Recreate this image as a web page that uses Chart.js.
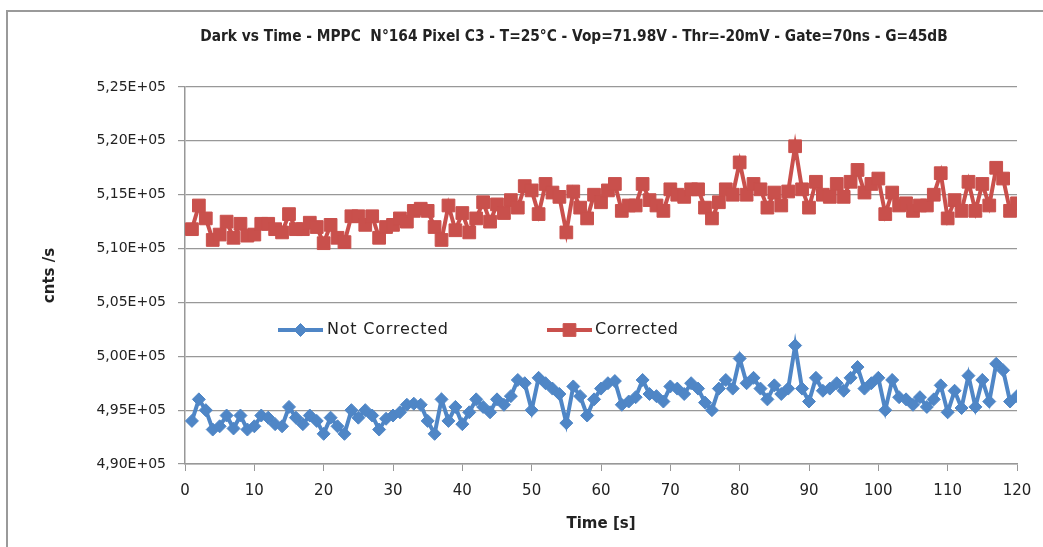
<!DOCTYPE html>
<html><head><meta charset="utf-8">
<script src="https://cdn.jsdelivr.net/npm/chart.js@4.4.1/dist/chart.umd.min.js"></script>
<style>
html,body{margin:0;padding:0;background:#fff;}
#wrap{position:relative;width:1043px;height:547px;overflow:hidden;background:#fff;}
#frame{position:absolute;left:6px;top:10px;width:1100px;height:600px;border-left:2px solid #9a9a9a;border-top:2px solid #9a9a9a;}
canvas{position:absolute;left:0;top:0;}
</style></head><body>
<div id="wrap"><div id="frame"></div><canvas id="c" width="1043" height="547"></canvas></div>
<script>
const titleText = 'Dark vs Time - MPPC  N°164 Pixel C3 - T=25°C - Vop=71.98V - Thr=-20mV - Gate=70ns - G=45dB';
const xTitle = 'Time [s]';
const yTitle = 'cnts /s';
const seriesNames = ['Not Corrected', 'Corrected'];

const timeS = [1,2,3,4,5,6,7,8,9,10,11,12,13,14,15,16,17,18,19,20,
21,22,23,24,25,26,27,28,29,30,31,32,33,34,35,36,37,38,39,40,
41,42,43,44,45,46,47,48,49,50,51,52,53,54,55,56,57,58,59,60,
61,62,63,64,65,66,67,68,69,70,71,72,73,74,75,76,77,78,79,80,
81,82,83,84,85,86,87,88,89,90,91,92,93,94,95,96,97,98,99,100,
101,102,103,104,105,106,107,108,109,110,111,112,113,114,115,116,117,118,119,120];

const notCorrected = [
4.940e5,4.960e5,4.950e5,4.932e5,4.935e5,4.945e5,4.933e5,4.945e5,4.932e5,4.935e5,
4.945e5,4.943e5,4.937e5,4.935e5,4.953e5,4.943e5,4.937e5,4.945e5,4.940e5,4.928e5,
4.943e5,4.935e5,4.928e5,4.950e5,4.943e5,4.950e5,4.945e5,4.932e5,4.942e5,4.945e5,
4.948e5,4.955e5,4.956e5,4.955e5,4.940e5,4.928e5,4.960e5,4.940e5,4.953e5,4.937e5,
4.948e5,4.960e5,4.953e5,4.948e5,4.960e5,4.955e5,4.963e5,4.978e5,4.975e5,4.950e5,
4.980e5,4.975e5,4.970e5,4.965e5,4.938e5,4.972e5,4.963e5,4.945e5,4.960e5,4.970e5,
4.975e5,4.977e5,4.955e5,4.958e5,4.962e5,4.978e5,4.965e5,4.963e5,4.958e5,4.972e5,
4.970e5,4.965e5,4.975e5,4.970e5,4.957e5,4.950e5,4.970e5,4.978e5,4.970e5,4.998e5,
4.975e5,4.980e5,4.970e5,4.960e5,4.973e5,4.965e5,4.970e5,5.010e5,4.970e5,4.958e5,
4.980e5,4.968e5,4.970e5,4.975e5,4.968e5,4.980e5,4.990e5,4.970e5,4.975e5,4.980e5,
4.950e5,4.978e5,4.962e5,4.960e5,4.955e5,4.962e5,4.953e5,4.960e5,4.973e5,4.948e5,
4.968e5,4.952e5,4.982e5,4.953e5,4.978e5,4.958e5,4.993e5,4.987e5,4.958e5,4.963e5];

const corrected = [
5.118e5,5.140e5,5.128e5,5.108e5,5.113e5,5.125e5,5.110e5,5.123e5,5.112e5,5.113e5,
5.123e5,5.123e5,5.118e5,5.115e5,5.132e5,5.118e5,5.118e5,5.124e5,5.120e5,5.105e5,
5.122e5,5.110e5,5.106e5,5.130e5,5.130e5,5.122e5,5.130e5,5.110e5,5.120e5,5.122e5,
5.128e5,5.125e5,5.135e5,5.137e5,5.135e5,5.120e5,5.108e5,5.140e5,5.117e5,5.133e5,
5.115e5,5.128e5,5.143e5,5.125e5,5.141e5,5.133e5,5.145e5,5.138e5,5.158e5,5.154e5,
5.132e5,5.160e5,5.152e5,5.148e5,5.115e5,5.153e5,5.138e5,5.128e5,5.150e5,5.143e5,
5.154e5,5.160e5,5.135e5,5.140e5,5.140e5,5.160e5,5.145e5,5.140e5,5.135e5,5.155e5,
5.150e5,5.148e5,5.155e5,5.155e5,5.138e5,5.128e5,5.143e5,5.155e5,5.150e5,5.180e5,
5.150e5,5.160e5,5.155e5,5.138e5,5.152e5,5.140e5,5.153e5,5.195e5,5.155e5,5.138e5,
5.162e5,5.150e5,5.148e5,5.160e5,5.148e5,5.162e5,5.173e5,5.152e5,5.160e5,5.165e5,
5.132e5,5.152e5,5.140e5,5.142e5,5.135e5,5.140e5,5.140e5,5.150e5,5.170e5,5.128e5,
5.145e5,5.135e5,5.162e5,5.135e5,5.160e5,5.140e5,5.175e5,5.165e5,5.135e5,5.142e5];

const xMin = 0, xMax = 120, xStep = 10;
const yMin = 4.90e5, yMax = 5.25e5, yStep = 0.05e5;

const BLUE = '#4F86C6';
const RED = '#C9504C';
const GRID = '#989898';
const TXT = '#222';

const TITLE_FAMILY = '"Liberation Sans Narrow", "DejaVu Sans Condensed", "Liberation Sans", sans-serif';

const titlePlugin = {
  id: 'offsetTitle',
  afterDraw(chart) {
    const ctx = chart.ctx;
    ctx.save();
    ctx.font = 'bold 16px ' + TITLE_FAMILY;
    const w = ctx.measureText(titleText).width;
    const size = Math.max(12, Math.min(19, 16 * 748 / w));
    ctx.font = 'bold ' + size + 'px ' + TITLE_FAMILY;
    ctx.fillStyle = TXT;
    ctx.textAlign = 'center';
    ctx.textBaseline = 'middle';
    ctx.fillText(titleText, 574, 37);
    ctx.restore();
  }
};

const legendPlugin = {
  id: 'inlineLegend',
  afterDatasetsDraw(chart) {
    const ctx = chart.ctx;
    const items = [
      {label: seriesNames[0], color: BLUE, style: 'rectRot', r: 6.5, x0: 278, x1: 323, tx: 327, tw: 121},
      {label: seriesNames[1], color: RED, style: 'rect', r: 9, x0: 547, x1: 592, tx: 595, tw: 83}
    ];
    const y = 330;
    ctx.save();
    items.forEach(it => {
      ctx.strokeStyle = it.color;
      ctx.lineWidth = 4;
      ctx.beginPath(); ctx.moveTo(it.x0, y); ctx.lineTo(it.x1, y); ctx.stroke();
      ctx.fillStyle = it.color;
      ctx.lineWidth = 1;
      Chart.helpers.drawPoint(ctx, {pointStyle: it.style, radius: it.r, rotation: 0, borderWidth: 1}, (it.x0 + it.x1) / 2, y);
      ctx.fillStyle = TXT;
      ctx.font = '16px "DejaVu Sans", sans-serif';
      ctx.textBaseline = 'middle';
      ctx.textAlign = 'left';
      const w = ctx.measureText(it.label).width;
      const n = it.label.length;
      if ('letterSpacing' in ctx) ctx.letterSpacing = ((it.tw - w) / (n - 1)) + 'px';
      ctx.fillText(it.label, it.tx, y);
      if ('letterSpacing' in ctx) ctx.letterSpacing = '0px';
    });
    ctx.restore();
  }
};

const ctx = document.getElementById('c').getContext('2d');
new Chart(ctx, {
  type: 'line',
  data: {
    datasets: [
      {
        label: seriesNames[0],
        data: timeS.map((t, i) => ({x: t, y: notCorrected[i]})),
        borderColor: BLUE, backgroundColor: BLUE,
        borderWidth: 4,
        pointStyle: 'rectRot', pointRadius: 6.5, pointBorderWidth: 1,
        pointBackgroundColor: BLUE, pointBorderColor: BLUE,
        tension: 0
      },
      {
        label: seriesNames[1],
        data: timeS.map((t, i) => ({x: t, y: corrected[i]})),
        borderColor: RED, backgroundColor: RED,
        borderWidth: 4,
        pointStyle: 'rect', pointRadius: 9, pointBorderWidth: 1,
        pointBackgroundColor: RED, pointBorderColor: RED,
        tension: 0
      }
    ]
  },
  options: {
    responsive: false,
    animation: false,
    devicePixelRatio: 1,
    layout: {padding: {left: 0, right: 26, top: 87, bottom: 0}},
    plugins: {
      legend: {display: false},
      tooltip: {enabled: false},
      title: {display: false}
    },
    scales: {
      x: {
        type: 'linear',
        min: xMin, max: xMax,
        ticks: {stepSize: xStep, color: TXT, font: {family: '"DejaVu Sans", sans-serif', size: 15}, padding: 11, maxRotation: 0},
        grid: {drawOnChartArea: false, drawTicks: true, tickLength: 7, color: GRID, lineWidth: 1},
        border: {display: true, color: GRID, width: 1.5},
        title: {display: true, text: xTitle, color: TXT, font: {family: '"DejaVu Sans", sans-serif', size: 15, weight: 'bold'}, padding: {top: 0, bottom: 14}},
        afterFit(scale) { scale.height = 547 - 464; }
      },
      y: {
        type: 'linear',
        min: yMin, max: yMax,
        ticks: {
          stepSize: yStep, color: TXT, padding: 12,
          font: {family: '"DejaVu Sans", sans-serif', size: 14},
          callback: v => (v / 1e5).toFixed(2).replace('.', ',') + 'E+05'
        },
        grid: {drawOnChartArea: true, drawTicks: true, tickLength: 7, color: GRID, lineWidth: 1.2},
        border: {display: true, color: GRID, width: 1.5},
        title: {display: true, text: yTitle, color: TXT, font: {family: '"DejaVu Sans", sans-serif', size: 15, weight: 'bold'}, padding: {top: 41, bottom: 0}},
        afterFit(scale) { scale.width = 185; }
      }
    }
  },
  plugins: [legendPlugin, titlePlugin]
});
</script>
</body></html>
